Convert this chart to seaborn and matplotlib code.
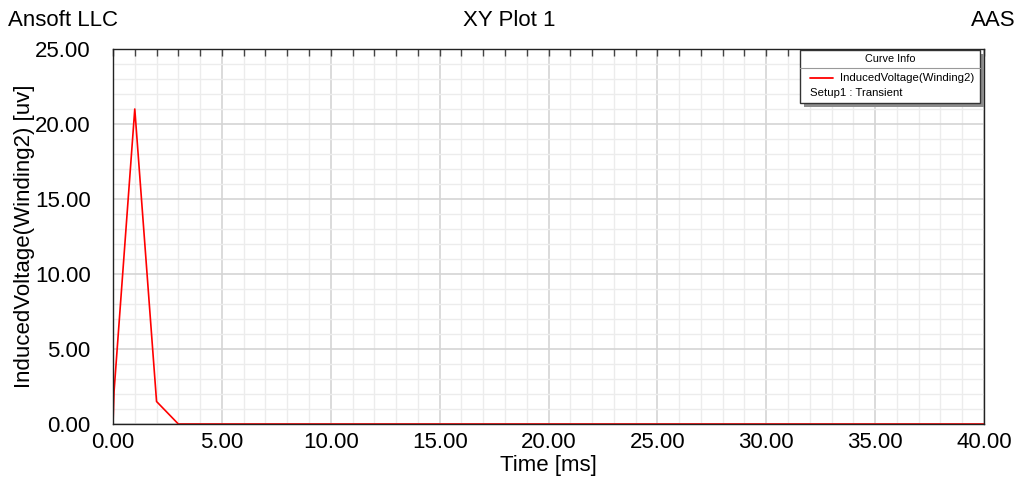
import pandas as pd
import seaborn as sns
import matplotlib.pyplot as plt
from matplotlib.ticker import MultipleLocator, FormatStrFormatter
from matplotlib.patches import Rectangle
from matplotlib.lines import Line2D

# Curve values
time_ms = [0.0, 0.05, 1.0, 2.0, 3.0, 40.0]
induced_voltage = [0.0, 2.2, 21.0, 1.5, 0.0, 0.0]

df = pd.DataFrame({'time': time_ms, 'voltage': induced_voltage})

sns.set_style('white')
plt.rcParams['font.family'] = ['Liberation Sans', 'DejaVu Sans']
plt.rcParams['text.color'] = 'black'
plt.rcParams['axes.labelcolor'] = 'black'
plt.rcParams['xtick.labelcolor'] = 'black'
plt.rcParams['ytick.labelcolor'] = 'black'

fig = plt.figure(figsize=(10.24, 4.78), dpi=100)
ax = fig.add_axes([113 / 1024, 54 / 478, 871 / 1024, 375 / 478])

sns.lineplot(data=df, x='time', y='voltage', color='#ff0000', linewidth=1.2, ax=ax)

ax.set_xlim(0, 40)
ax.set_ylim(0, 25)
ax.xaxis.set_major_locator(MultipleLocator(5))
ax.xaxis.set_minor_locator(MultipleLocator(1))
ax.yaxis.set_major_locator(MultipleLocator(5))
ax.yaxis.set_minor_locator(MultipleLocator(1))
ax.xaxis.set_major_formatter(FormatStrFormatter('%.2f'))
ax.yaxis.set_major_formatter(FormatStrFormatter('%.2f'))

# grid: darker every 5, light every 1
ax.grid(which='major', color='#d4d4d4', linewidth=1.2)
ax.grid(which='minor', color='#ececec', linewidth=1.0)
ax.set_axisbelow(True)

for s in ax.spines.values():
    s.set_color('#222222')
    s.set_linewidth(1.0)

ax.tick_params(axis='y', which='major', direction='out', length=11, width=1,
               color='#444444', labelsize=16, pad=5)
ax.tick_params(axis='y', which='minor', direction='out', length=5, width=1, color='#444444')
ax.tick_params(axis='x', which='both', direction='in', length=5, width=1,
               color='#444444', top=True, labelsize=16, pad=6)

ax.set_xlabel('Time [ms]', fontsize=16, labelpad=1)
ax.set_ylabel('InducedVoltage(Winding2) [uv]', fontsize=16, labelpad=0)

# header texts
fig.text(8 / 1024, 1 - 20 / 478, 'Ansoft LLC', fontsize=16, ha='left', va='center')
fig.text(509 / 1024, 1 - 20 / 478, 'XY Plot 1', fontsize=16, ha='center', va='center')
fig.text(1016 / 1024, 1 - 20 / 478, 'AAS', fontsize=16, ha='right', va='center')

# Curve Info box
W, H = 1024, 478
bx, by, bw, bh = 800 / W, 1 - 103 / H, 180 / W, 53 / H
fig.patches.append(Rectangle((bx + 4 / W, by - 4 / H), bw, bh, transform=fig.transFigure,
                             facecolor='#8c8c8c', edgecolor='none', zorder=5))
fig.patches.append(Rectangle((bx, by), bw, bh, transform=fig.transFigure,
                             facecolor='white', edgecolor='#333333', linewidth=1, zorder=6))
fig.lines.append(Line2D([bx, bx + bw], [1 - 68 / H, 1 - 68 / H], transform=fig.transFigure,
                        color='#999999', linewidth=0.8, zorder=7))
fig.text(bx + bw / 2, 1 - 59 / H, 'Curve Info', fontsize=7.8, ha='center', va='center', zorder=8)
fig.lines.append(Line2D([810 / W, 833 / W], [1 - 78 / H, 1 - 78 / H], transform=fig.transFigure,
                        color='#ff0000', linewidth=1.3, zorder=8))
fig.text(840 / W, 1 - 78 / H, 'InducedVoltage(Winding2)', fontsize=8.2, ha='left', va='center', zorder=8)
fig.text(810 / W, 1 - 93 / H, 'Setup1 : Transient', fontsize=8.2, ha='left', va='center', zorder=8)

fig.savefig('out.png', dpi=100)
